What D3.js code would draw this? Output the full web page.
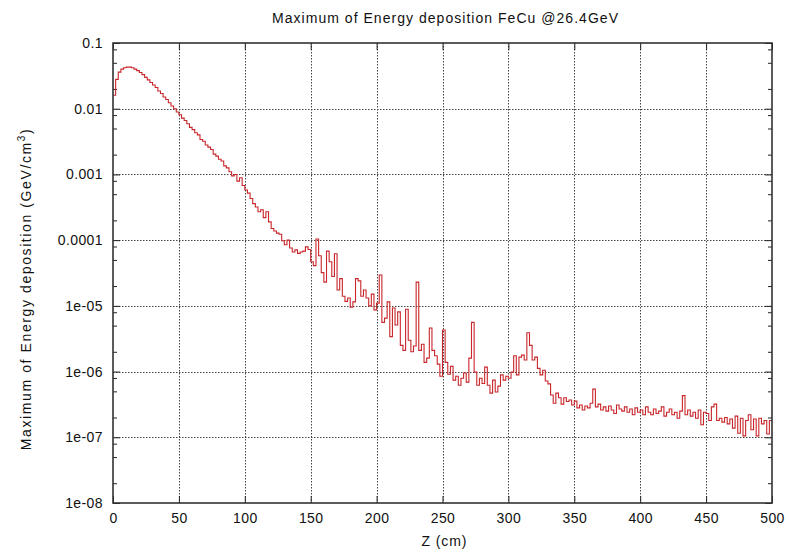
<!DOCTYPE html>
<html>
<head>
<meta charset="utf-8">
<script src="https://d3js.org/d3.v7.min.js"></script>
<style>
  body { margin: 0; background: #fff; }
  svg text { font-family: "Liberation Sans", Arial, sans-serif; fill: #111; }
</style>
</head>
<body>
<div id="display"></div>
<script>
// energy deposition per 2 cm bin (GeV/cm3)
var binWidth = 2;
var energy = [
  0.016, 0.028, 0.036, 0.040, 0.042, 0.043, 0.043, 0.042, 0.040, 0.038,
  0.0355, 0.033, 0.030, 0.0275, 0.025, 0.023, 0.021, 0.0186, 0.017, 0.0151,
  0.0138, 0.0123, 0.011, 0.0100, 0.0089, 0.0081, 0.0072, 0.0066, 0.0059, 0.0052,
  0.0048, 0.0043, 0.0040, 0.0034, 0.0032, 0.0028, 0.0026, 0.0024, 0.00204, 0.0019,
  0.0017, 0.0016, 0.00135, 0.00126, 0.0011, 0.00095, 0.0010, 0.00079, 0.00089, 0.00068,
  5.8e-4, 5.2e-4, 4.3e-4, 3.6e-4, 3.2e-4, 2.7e-4, 2.9e-4, 2.2e-4, 2.7e-4, 1.9e-4,
  1.5e-4, 1.38e-4, 1.28e-4, 1.23e-4, 9.8e-5, 8.5e-5, 1.0e-4, 7.6e-5, 6.6e-5, 7.1e-5,
  6.3e-5, 6.6e-5, 6.8e-5, 7.9e-5, 7.2e-5, 4.7e-5, 4.1e-5, 1.04e-4, 5.8e-5, 3.2e-5,
  2.3e-5, 6.8e-5, 4.7e-5, 2.8e-5, 6.2e-5, 1.74e-5, 2.6e-5, 1.4e-5, 1.17e-5, 1.32e-5,
  9.5e-6, 1.15e-5, 2.6e-5, 2.4e-5, 1.4e-5, 1.74e-5, 1.32e-5, 1.0e-5, 1.51e-5, 8.7e-6,
  1.1e-5, 2.95e-5, 5.6e-6, 6.5e-6, 1.15e-5, 3.4e-6, 9.3e-6, 5.1e-6, 8.1e-6, 2.5e-6,
  2.1e-6, 8.9e-6, 3.0e-6, 2.0e-6, 2.45e-6, 2.3e-5, 2.1e-6, 2.6e-6, 1.38e-6, 1.6e-6,
  4.6e-6, 2.1e-6, 1.74e-6, 1.3e-6, 8.5e-7, 4.3e-6, 1.38e-6, 9.1e-7, 1.2e-6, 7.4e-7,
  8.5e-7, 6.2e-7, 7.9e-7, 9.5e-7, 6.9e-7, 1.6e-6, 5.6e-6, 9.8e-7, 6.2e-7, 7.9e-7,
  6.6e-7, 1.17e-6, 6.2e-7, 4.7e-7, 7.4e-7, 4.9e-7, 6.0e-7, 8.9e-7, 7.4e-7, 8.5e-7,
  7.9e-7, 9.8e-7, 1.74e-6, 8.9e-7, 1.66e-6, 1.78e-6, 1.5e-6, 3.9e-6, 2.5e-6, 1.5e-6,
  1.66e-6, 1.12e-6, 8.9e-7, 1.05e-6, 7.2e-7, 6.5e-7, 4.4e-7, 3.3e-7, 4.7e-7, 4.0e-7,
  3.2e-7, 4.0e-7, 3.5e-7, 3.7e-7, 3.1e-7, 3.55e-7, 2.8e-7, 3.1e-7, 2.6e-7, 3.0e-7,
  2.8e-7, 3.3e-7, 5.4e-7, 2.9e-7, 3.2e-7, 2.6e-7, 2.9e-7, 2.5e-7, 3.0e-7, 2.6e-7,
  2.3e-7, 3.1e-7, 2.7e-7, 2.5e-7, 2.9e-7, 2.4e-7, 2.7e-7, 2.2e-7, 2.8e-7, 2.4e-7,
  2.6e-7, 2.2e-7, 2.9e-7, 2.4e-7, 2.2e-7, 2.7e-7, 2.3e-7, 2.5e-7, 2.9e-7, 2.1e-7,
  2.4e-7, 2.7e-7, 2.2e-7, 2.4e-7, 1.95e-7, 2.5e-7, 4.3e-7, 2.2e-7, 2.6e-7, 2.1e-7,
  2.4e-7, 1.95e-7, 2.6e-7, 1.55e-7, 2.4e-7, 2.3e-7, 1.8e-7, 2.9e-7, 3.2e-7, 1.8e-7,
  1.95e-7, 1.7e-7, 2.0e-7, 1.6e-7, 1.9e-7, 1.38e-7, 2.1e-7, 1.15e-7, 1.95e-7, 1.05e-7,
  1.8e-7, 2.2e-7, 1.3e-7, 1.9e-7, 1.05e-7, 1.95e-7, 1.6e-7, 1.8e-7, 1.12e-7, 1.8e-7
];

var xTicks = [0, 50, 100, 150, 200, 250, 300, 350, 400, 450, 500];
var yTicks = [1e-1, 1e-2, 1e-3, 1e-4, 1e-5, 1e-6, 1e-7, 1e-8];
var yTickLabels = ['0.1', '0.01', '0.001', '0.0001', '1e-05', '1e-06', '1e-07', '1e-08'];
var yMinorSteps = [2, 5, 8];

var width = 789, height = 552;
var m_left = 113, m_right = 772, m_top = 43, m_bottom = 503;
var line_color = '#c8262a';

var svg = d3.select('#display').append('svg')
    .attr('width', width).attr('height', height);

var x = d3.scaleLinear().domain([0, 500]).range([m_left, m_right]);
var y = d3.scaleLog().domain([1e-8, 0.1]).range([m_bottom, m_top]);

var yMinor = [];
yTicks.slice(1).forEach(function(d) {
    yMinorSteps.forEach(function(m) { yMinor.push(d * m); });
});

// grid
var grid = svg.append('g').attr('stroke', '#444').attr('stroke-width', 1)
    .attr('stroke-dasharray', '1.5,1.5');
grid.selectAll('.gx').data(xTicks.slice(1, -1)).enter().append('line')
    .attr('x1', function(d) { return Math.round(x(d)) + 0.5; }).attr('x2', function(d) { return Math.round(x(d)) + 0.5; })
    .attr('y1', m_top).attr('y2', m_bottom);
grid.selectAll('.gy').data(yTicks.slice(1, -1)).enter().append('line')
    .attr('y1', function(d) { return Math.round(y(d)) + 0.5; }).attr('y2', function(d) { return Math.round(y(d)) + 0.5; })
    .attr('x1', m_left).attr('x2', m_right);

// axes, ticks pointing in
function style_axis(g) {
    g.select('.domain').remove();
    g.selectAll('.tick line').attr('stroke', '#222').attr('stroke-width', 1);
    g.selectAll('.tick text').style('font-size', '14px').style('letter-spacing', '0.4px').attr('fill', '#111');
}

svg.append('g').attr('transform', 'translate(0,' + m_bottom + ')')
    .call(d3.axisBottom(x).tickValues(xTicks).tickSizeInner(-7).tickSizeOuter(0).tickPadding(10))
    .call(style_axis);
svg.append('g').attr('transform', 'translate(0,' + m_top + ')')
    .call(d3.axisTop(x).tickValues(xTicks).tickSizeInner(-7).tickSizeOuter(0).tickFormat(''))
    .call(style_axis);
svg.append('g').attr('transform', 'translate(' + m_left + ',0)')
    .call(d3.axisLeft(y).tickValues(yTicks).tickSizeInner(-7).tickSizeOuter(0).tickPadding(10)
        .tickFormat(function(d, i) { return yTickLabels[i]; }))
    .call(style_axis);
svg.append('g').attr('transform', 'translate(' + m_left + ',0)')
    .call(d3.axisLeft(y).tickValues(yMinor).tickSizeInner(-4).tickSizeOuter(0).tickFormat(''))
    .call(style_axis);
svg.append('g').attr('transform', 'translate(' + m_right + ',0)')
    .call(d3.axisRight(y).tickValues(yTicks).tickSizeInner(-7).tickSizeOuter(0).tickFormat(''))
    .call(style_axis);
svg.append('g').attr('transform', 'translate(' + m_right + ',0)')
    .call(d3.axisRight(y).tickValues(yMinor).tickSizeInner(-4).tickSizeOuter(0).tickFormat(''))
    .call(style_axis);

// histogram steps
var pts = energy.map(function(v, i) { return [i * binWidth, v]; });
pts.push([energy.length * binWidth, energy[energy.length - 1]]);

var step = d3.line()
    .x(function(d) { return x(d[0]); })
    .y(function(d) { return y(d[1]); })
    .curve(d3.curveStepAfter);

svg.append('path').datum(pts)
    .attr('d', step)
    .attr('fill', 'none')
    .attr('stroke', line_color)
    .attr('stroke-width', 1.1);

// frame
svg.append('rect')
    .attr('x', m_left).attr('y', m_top)
    .attr('width', m_right - m_left).attr('height', m_bottom - m_top)
    .attr('fill', 'none').attr('stroke', '#333').attr('stroke-width', 1.6);

// labels (gnuplot's renderer spaces letters wider)
svg.append('text').attr('x', 445).attr('y', 23).attr('text-anchor', 'middle')
    .attr('textLength', 346).attr('lengthAdjust', 'spacing')
    .style('font-size', '14px').text('Maximum of Energy deposition FeCu @26.4GeV');

svg.append('text').attr('x', 444).attr('y', 546).attr('text-anchor', 'middle')
    .attr('textLength', 45).attr('lengthAdjust', 'spacing')
    .style('font-size', '14px').text('Z (cm)');

var ylab = svg.append('text')
    .attr('transform', 'translate(31,289) rotate(-90)')
    .attr('text-anchor', 'middle')
    .style('font-size', '14px')
    .style('letter-spacing', '1.6px');
ylab.append('tspan').text('Maximum of Energy deposition (GeV/cm');
ylab.append('tspan').attr('dy', -6).style('font-size', '10px').text('3');
ylab.append('tspan').attr('dy', 6).text(')');
</script>
</body>
</html>
